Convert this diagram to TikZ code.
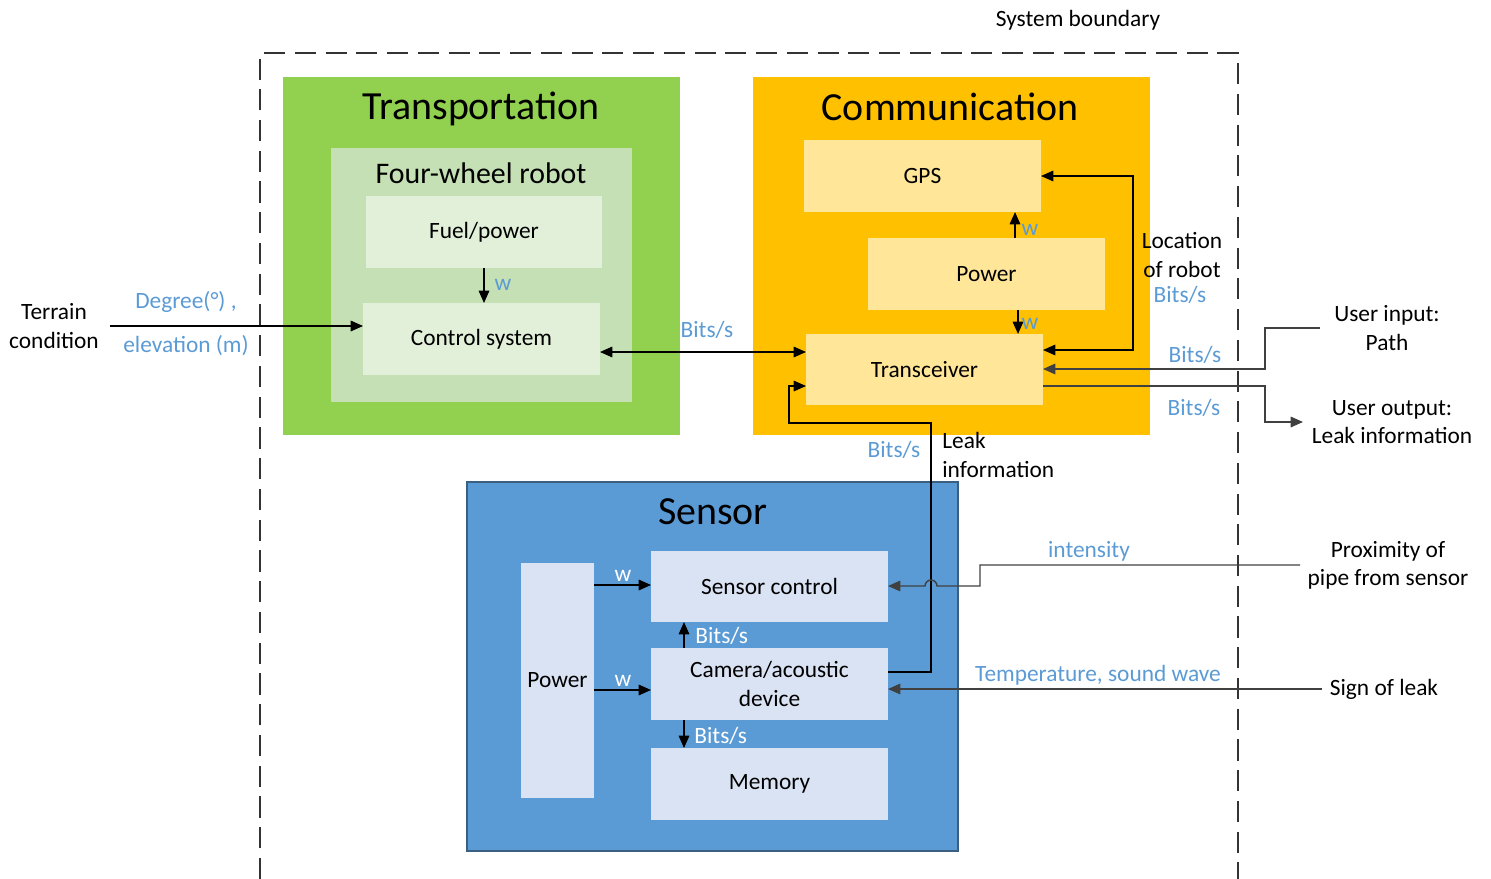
\documentclass[tikz,border=0pt]{standalone}
\usepackage{fontspec}
\setmainfont{Carlito}
\usetikzlibrary{arrows.meta}
\newdimen\pxu \pxu=0.02cm
\definecolor{trgreen}{HTML}{92D050}
\definecolor{robotgreen}{HTML}{C5E0B4}
\definecolor{partgreen}{HTML}{E2F0D9}
\definecolor{comorange}{HTML}{FFC000}
\definecolor{partyellow}{HTML}{FFE699}
\definecolor{senblue}{HTML}{5B9BD5}
\definecolor{senborder}{HTML}{3B5F80}
\definecolor{partblue}{HTML}{DAE3F3}
\definecolor{lblblue}{HTML}{5B9BD5}
\definecolor{wiregray}{HTML}{404040}
\begin{document}
\begin{tikzpicture}[x=0.02cm,y=-0.02cm,
  sz/.style 2 args={minimum width=#1*\pxu, minimum height=#2*\pxu},
  blk/.style={rectangle, inner sep=0pt, outer sep=0pt, draw=none},
  body/.style={font=\fontsize{13.3}{16}\selectfont, align=center, inner sep=1pt},
  title/.style={font=\fontsize{22.7}{27}\selectfont, inner sep=0pt},
  subtitle/.style={font=\fontsize{17}{20}\selectfont, inner sep=0pt},
  lbl/.style={font=\fontsize{13.3}{16}\selectfont, text=lblblue, inner sep=0pt},
  wlbl/.style={font=\fontsize{13.3}{16}\selectfont, text=white, inner sep=0pt},
  arr/.style={-{Triangle[length=7pt,width=6pt]}, line width=0.8pt},
  arrboth/.style={{Triangle[length=7pt,width=6pt]}-{Triangle[length=7pt,width=6pt]}, line width=0.8pt},
  wire/.style={draw=wiregray, line width=0.8pt},
  boundary/.style={dash pattern=on 12pt off 5.5pt, line width=0.8pt, draw=black!80}
]
\useasboundingbox (0,0) rectangle (1491,879);

% system boundary (open at the bottom)
\coordinate (bl) at (260,879);
\coordinate (tl) at (260,53);
\coordinate (tr) at (1238,53);
\coordinate (br) at (1238,879);
\draw[boundary] (bl) -- (tl) -- (tr) -- (br);
\node[body] (sysb) at (1078,20) {System boundary};

% ---------- Transportation ----------
\node[blk, sz={397}{358}, fill=trgreen] (trans) at (481.5,256) {};
\node[title] (transt) at (481,109) {Transportation};
\node[blk, sz={301}{254}, fill=robotgreen] (robot) at (481.5,275) {};
\node[subtitle] (robott) at (481,173) {Four-wheel robot};
\node[blk, body, sz={236}{72}, fill=partgreen] (fuel) at (484,232) {Fuel/power};
\node[blk, body, sz={237}{72}, fill=partgreen] (ctrl) at (481.5,339) {Control system};

% ---------- Communication ----------
\node[blk, sz={397}{358}, fill=comorange] (comm) at (951.5,256) {};
\node[title] (commt) at (950,107) {Communication};
\node[blk, body, sz={237}{72}, fill=partyellow] (gps) at (922.5,176) {GPS};
\node[blk, body, sz={237}{72}, fill=partyellow] (cpow) at (986.5,274) {Power};
\node[blk, body, sz={237}{71}, fill=partyellow] (xcvr) at (924.5,369.5) {Transceiver};

% ---------- Sensor ----------
\node[blk, sz={491}{369}, fill=senblue, draw=senborder, line width=0.8pt] (sensor) at (712.5,666.5) {};
\node[title] (sensort) at (713,512) {Sensor};
\node[blk, body, sz={73}{235}, fill=partblue] (spow) at (557.5,680.5) {Power};
\node[blk, body, sz={237}{71}, fill=partblue] (sctl) at (769.5,586.5) {Sensor control};
\node[blk, body, sz={237}{72}, fill=partblue] (cam) at (769.5,684) {Camera/acoustic\\device};
\node[blk, body, sz={237}{72}, fill=partblue] (mem) at (769.5,784) {\raisebox{-2pt}{Memory}};

% ---------- Transportation wiring ----------
\draw[arr] (fuel.south) -- (fuel.south |- ctrl.north);
\node[lbl] (wfuel) at (503,285) {w};

\coordinate (tin) at (110,326);
\node[body] (terrain) at (54,326) {Terrain\\condition};
\draw[arr] (tin) -- (tin -| ctrl.west);
\node[lbl] (deg) at (186,302) {Degree(°) ,};
\node[lbl] (elev) at (186,346) {elevation (m)};

\coordinate (cx) at (0,352);
\draw[arrboth] (cx -| ctrl.east) -- (cx -| xcvr.west);
\node[lbl] (bctrl) at (707,330) {Bits/s};

% ---------- Communication wiring ----------
\coordinate (pw1) at (1015,0);
\coordinate (pw2) at (1018,0);
\draw[arr] (cpow.north -| pw1) -- (gps.south -| pw1);
\draw[arr] (cpow.south -| pw2) -- (xcvr.north -| pw2);
\node[lbl] (wgps) at (1030,230) {w};
\node[lbl] (wxcvr) at (1030,324) {w};

\coordinate (lb) at (1133,350);
\draw[arrboth] (gps.east) -| (lb) -- (lb -| xcvr.east);
\node[body] (loc) at (1182,255) {Location\\of robot};
\node[lbl] (bloc) at (1180,295) {Bits/s};

\coordinate (ui) at (1320,328);
\coordinate (uj) at (1265,369);
\draw[arr, wire] (ui) -| (uj) -- (uj -| xcvr.east);
\node[lbl] (bin) at (1195,355) {Bits/s};
\node[body] (uin) at (1387,328) {User input:\\Path};

\coordinate (uo) at (1265,386);
\coordinate (uo2) at (1303,422);
\draw[arr, wire] (uo -| xcvr.east) -- (uo) |- (uo2);
\node[lbl] (bout) at (1194,408) {Bits/s};
\node[body] (uout) at (1392,422) {User output:\\Leak information};

% ---------- Sensor wiring ----------
\coordinate (sp1) at (0,585);
\coordinate (sp2) at (0,690);
\draw[arr] (sp1 -| spow.east) -- (sp1 -| sctl.west);
\draw[arr] (sp2 -| spow.east) -- (sp2 -| cam.west);
\node[wlbl] (ws1) at (623,576) {w};
\node[wlbl] (ws2) at (623,681) {w};

\coordinate (cb) at (684,0);
\draw[arr] (cam.north -| cb) -- (sctl.south -| cb);
\draw[arr] (cam.south -| cb) -- (mem.north -| cb);
\node[wlbl, anchor=west] (bs1) at (695,636) {Bits/s};
\node[wlbl, anchor=west] (bs2) at (694,736) {Bits/s};

% leak information back to the transceiver
\coordinate (lk0) at (0,672);
\coordinate (lk1) at (931,423);
\coordinate (lk2) at (789,386);
\draw[arr] (lk0 -| cam.east) -| (lk1) -| (lk2) -- (lk2 -| xcvr.west);
\node[lbl] (bleak) at (894,450) {Bits/s};
\node[body, anchor=west, align=left, inner sep=0pt] (leak) at (942,455) {Leak\\information};

% proximity input, hopping over the leak wire
\coordinate (px0) at (1300,565);
\coordinate (px1) at (980,586);
\coordinate (hop) at (937,586);
\draw[arr, wire] (px0) -| (px1) -- (hop)
  arc[start angle=0, end angle=180, radius=6*\pxu] -- (hop -| sctl.east);
\node[lbl] (inten) at (1089,551) {intensity};
\node[body] (prox) at (1388,565) {Proximity of\\pipe from sensor};

\coordinate (sl) at (1322,689);
\draw[arr, wire] (sl) -- (sl -| cam.east);
\node[lbl] (temp) at (1098,675) {Temperature, sound wave};
\node[body] (sign) at (1384,689) {Sign of leak};
\end{tikzpicture}
\end{document}
